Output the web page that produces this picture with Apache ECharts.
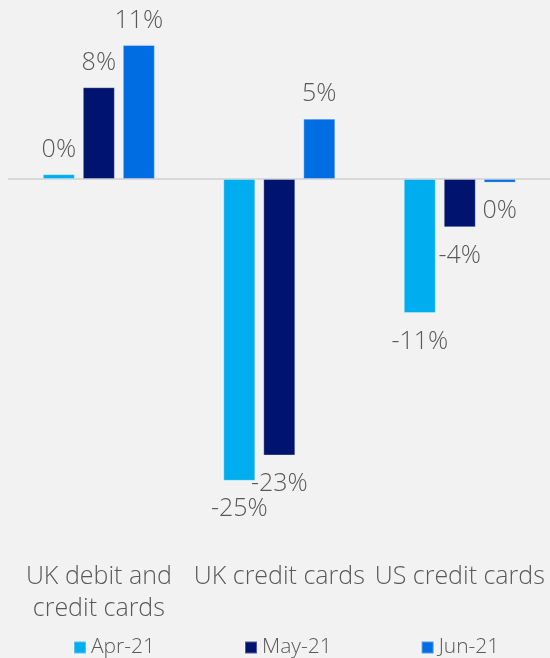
<!DOCTYPE html>
<html>
<head>
<meta charset="utf-8">
<script src="https://cdn.jsdelivr.net/npm/echarts@6/dist/echarts.min.js"></script>
<style>
  html, body { margin: 0; padding: 0; background: #f2f2f2; }
  #chart { width: 550px; height: 658px; }
</style>
</head>
<body>
<div id="chart"></div>
<script>
// Card spending change by market, monthly comparison
const categories = ['UK debit and credit cards', 'UK credit cards', 'US credit cards'];
const seriesNames = ['Apr-21', 'May-21', 'Jun-21'];
const apr21 = [0.4, -25, -11.1];
const may21 = [7.6, -22.9, -4];
const jun21 = [11.1, 5, -0.3];
const seriesColors = ['#00aeef', '#00136e', '#006de2'];

const FONT = '"Open Sans", "Noto Sans", sans-serif';
const WEIGHT = 300;
const TEXT = '#595959';

const pct = v => Math.round(v) + '%';

function makeSeries(name, values, color) {
  return {
    name: name,
    type: 'bar',
    xAxisIndex: 0,
    yAxisIndex: 0,
    barWidth: 32,
    barGap: '25%',
    data: values.map(v => ({
      value: v,
      label: v >= 0 ? { position: 'top', distance: 12 } : { position: 'bottom', distance: 16 }
    })),
    itemStyle: { color: color, borderColor: 'rgba(255,255,255,0.3)', borderWidth: 1 },
    label: {
      show: true,
      formatter: p => pct(p.value),
      fontFamily: FONT,
      fontWeight: WEIGHT,
      fontSize: 25,
      color: TEXT
    }
  };
}

const chart = echarts.init(document.getElementById('chart'), null, { renderer: 'canvas' });
chart.setOption({
  backgroundColor: '#f2f2f2',
  animation: false,
  grid: [
    // plot area for the bars
    { left: 8.6, width: 545.4, top: 10, height: 507 },
    // same columns, used only to place the category names below the plot
    { left: 8.6, width: 545.4, top: 0, height: 547 }
  ],
  xAxis: [
    {
      type: 'category', gridIndex: 0, data: categories,
      axisLine: { lineStyle: { color: '#d9d9d9', width: 2 } },
      axisTick: { show: false },
      axisLabel: { show: false }
    },
    {
      type: 'category', gridIndex: 1, data: categories,
      axisLine: { show: false },
      axisTick: { show: false },
      axisLabel: {
        margin: 14,
        fontFamily: FONT,
        fontWeight: WEIGHT,
        fontSize: 25,
        lineHeight: 32,
        color: TEXT,
        interval: 0,
        formatter: s => s.replace('and ', 'and\n')
      }
    }
  ],
  yAxis: [
    { type: 'value', gridIndex: 0, min: -28, max: 14, show: false, splitLine: { show: false } },
    { type: 'value', gridIndex: 1, show: false, splitLine: { show: false } }
  ],
  legend: {
    data: seriesNames,
    left: 73,
    top: 637,
    padding: 0,
    icon: 'rect',
    itemWidth: 12,
    itemHeight: 12,
    itemGap: 89,
    textStyle: { fontFamily: FONT, fontWeight: WEIGHT, fontSize: 21, color: TEXT }
  },
  series: [
    makeSeries(seriesNames[0], apr21, seriesColors[0]),
    makeSeries(seriesNames[1], may21, seriesColors[1]),
    makeSeries(seriesNames[2], jun21, seriesColors[2])
  ]
});
</script>
</body>
</html>
